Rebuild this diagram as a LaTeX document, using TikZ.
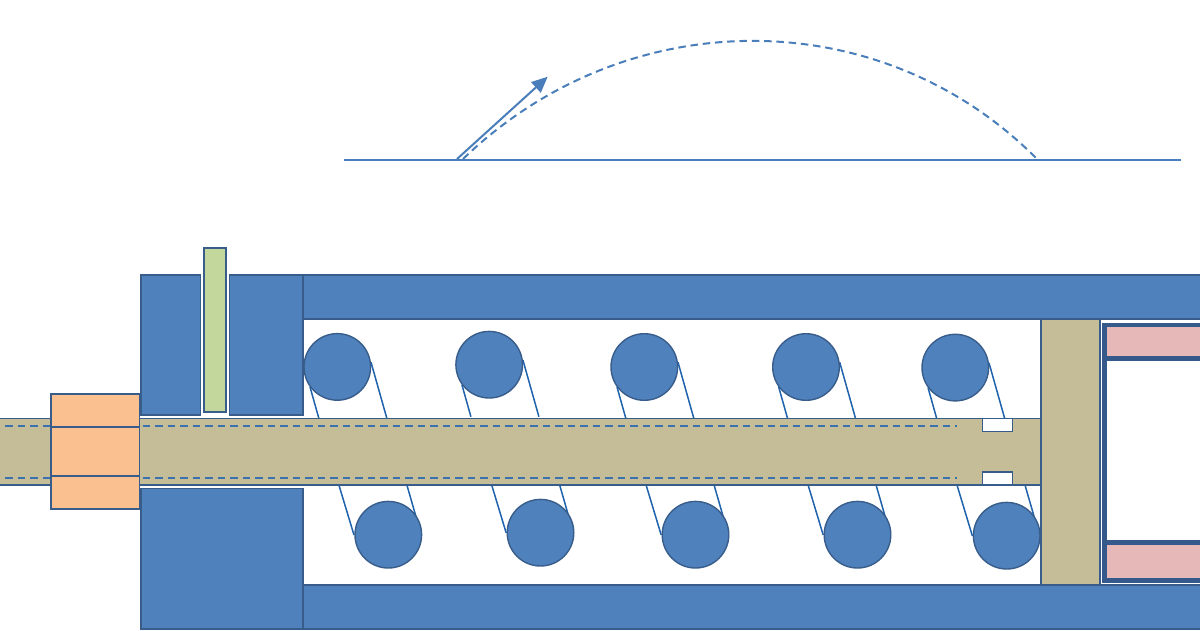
\documentclass[tikz,border=0pt]{standalone}
\usetikzlibrary{arrows.meta}
\definecolor{blueF}{HTML}{4F81BD}
\definecolor{blueD}{HTML}{385D8A}
\definecolor{tanF}{HTML}{C4BD97}
\definecolor{orangeF}{HTML}{FAC090}
\definecolor{greenF}{HTML}{C3D69B}
\definecolor{pinkF}{HTML}{E6B9B8}
\definecolor{coilC}{HTML}{1F63AC}
\definecolor{hiddenC}{HTML}{3A72B0}
\definecolor{darkB}{HTML}{34598A}
\definecolor{topline}{HTML}{4A7EBB}
\tikzset{
  x=1pt,y=-1pt,
  bluepart/.style={fill=blueF,draw=blueD,line width=1.5pt},
  tanpart/.style={fill=tanF,draw=blueD,line width=1.4pt},
  orangepart/.style={fill=orangeF,draw=blueD,line width=1.7pt},
  coilwire/.style={draw=coilC,line width=1.5pt},
  coilball/.style={circle,fill=blueF,draw=blueD,line width=1.4pt,minimum size=66.6pt,inner sep=0pt,outer sep=0pt},
  hidden/.style={draw=hiddenC,line width=2pt,dash pattern=on 7.5pt off 5pt},
  refline/.style={draw=topline,line width=2pt},
}
\begin{document}
\begin{tikzpicture}
\useasboundingbox (0,0) rectangle (1200,630);
\clip (0,0) rectangle (1200,630);
\fill[white] (0,0) rectangle (1200,630);
% upper trajectory
\draw[refline] (344,159.5) -- (1181,159.5);
\draw[refline,-{Triangle[length=16pt,width=14pt]}] (457,159) -- (547.7,76.7);
\draw[refline,dash pattern=on 7.5pt off 4.8pt] (463,159) .. controls (626,1.5) and (881,1.5) .. (1037,159);
% housing
\draw[bluepart] (303,275) rectangle (1204,319);
\draw[bluepart] (303,585) rectangle (1204,629);
\draw[bluepart] (141,275) rectangle (200.5,415);
\draw[bluepart] (229.5,275) rectangle (303,415);
\draw[bluepart] (141,488.5) rectangle (303,629);
% coils, upper row
\foreach \cx/\cy in {337.3/366.9,489.2/364.7,644.3/367,806/367,955.3/367.6}{
  \begin{scope}[shift={(\cx,\cy)}]
    \draw[coilwire] (33.7,-4.7) -- (49.7,52);
    \draw[coilwire] (-27.3,20) -- (-18.3,52);
    \node[coilball] at (0,0) {};
  \end{scope}
}
% coils, lower row
\foreach \cx/\cy in {388.3/534.7,540.5/532.7,695.5/534.7,857.5/534.7,1006.7/535.7}{
  \begin{scope}[shift={(\cx,\cy)}]
    \draw[coilwire] (-49.5,-50) -- (-34.3,0.3);
    \draw[coilwire] (18.5,-50) -- (27.7,-18);
    \node[coilball] at (0,0) {};
  \end{scope}
}
% shaft and piston
\draw[tanpart] (-4,418.5) -- (1041,418.5) -- (1041,485) -- (-4,485) -- cycle;
\draw[tanpart] (1041,319) rectangle (1100,585);
\draw[tanpart,fill=white] (982.7,418.7) rectangle (1012.3,431.7);
\draw[tanpart,fill=white] (982.7,472) rectangle (1012.3,484.9);
\draw[hidden] (5,425.5) -- (957,425.5);
\draw[hidden] (5,477.5) -- (957,477.5);
% nut
\draw[orangepart] (51.3,393.9) rectangle (139.5,508.7);
\draw[orangepart] (51.3,426.7) -- (139.5,426.7);
\draw[orangepart] (51.3,476) -- (139.5,476);
% pin
\draw[fill=greenF,draw=blueD,line width=1.5pt] (204,248) rectangle (226,412);
% right box
\fill[darkB] (1102,322.5) rectangle (1204,582.7);
\fill[pinkF] (1106.7,326.7) rectangle (1204,356);
\fill[white] (1106.7,360.7) rectangle (1204,540);
\fill[pinkF] (1106.7,545) rectangle (1204,578.3);
\end{tikzpicture}
\end{document}
